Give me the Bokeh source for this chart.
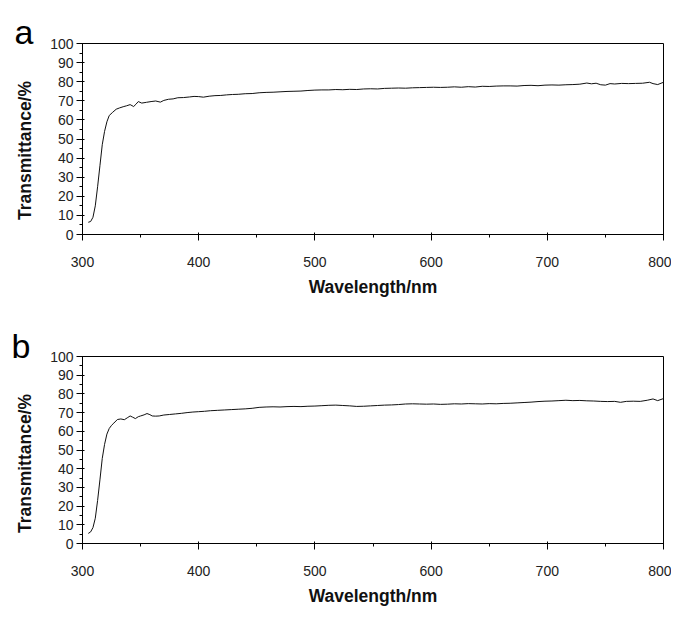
import math
from bokeh.plotting import figure
from bokeh.layouts import column
from bokeh.models import Range1d, SingleIntervalTicker, Label
from bokeh.embed import file_html
from bokeh.resources import INLINE

# ---- data ----
wl_a = [305, 307, 309, 311, 313, 315, 317, 319, 321, 323, 326, 329, 332, 335, 338,
        341, 344, 346, 348, 351, 355, 359, 363, 367, 370, 374, 378, 382, 387, 392,
        396, 400, 404, 409, 414, 419, 424, 429, 434, 440, 446, 452, 458, 464, 470,
        476, 482, 488, 494, 500, 506, 512, 518, 524, 530, 536, 542, 548, 554, 560,
        566, 572, 578, 584, 590, 596, 602, 608, 614, 620, 626, 632, 638, 644, 650,
        656, 662, 668, 674, 680, 686, 692, 698, 704, 710, 716, 722, 728, 734, 738,
        742, 746, 750, 754, 758, 764, 770, 776, 782, 788, 791, 795, 800]
t_a = [6.4, 6.8, 9.0, 15.0, 25.0, 36.0, 47.0, 54.0, 59.0, 62.3, 64.0, 65.6, 66.3, 66.9, 67.4,
       68.0, 67.0, 68.2, 69.6, 68.8, 69.2, 69.6, 69.9, 69.3, 70.2, 70.8, 71.0, 71.6, 71.7, 72.0,
       72.3, 72.2, 71.9, 72.4, 72.7, 72.8, 73.1, 73.3, 73.4, 73.7, 73.8, 74.2, 74.4, 74.5, 74.7,
       74.9, 75.0, 75.1, 75.4, 75.6, 75.7, 75.7, 75.9, 75.8, 76.0, 75.9, 76.2, 76.3, 76.2, 76.5,
       76.6, 76.7, 76.6, 76.8, 76.9, 77.0, 77.1, 77.0, 77.1, 77.3, 77.1, 77.4, 77.2, 77.6, 77.5,
       77.7, 77.8, 77.8, 77.7, 78.0, 78.1, 77.9, 78.2, 78.3, 78.2, 78.4, 78.5, 78.7, 79.3, 78.9,
       79.2, 78.4, 78.2, 79.0, 78.8, 79.1, 79.0, 79.1, 79.2, 79.7, 79.0, 78.5, 79.7]

wl_b = [305, 307, 309, 311, 313, 315, 317, 319, 321, 323, 325, 327, 330, 333, 336,
        339, 341, 343, 345.5, 348, 350, 353, 355.5, 358, 360, 363, 366, 370, 375, 380,
        385, 390, 395, 400, 405, 410, 416, 422, 428, 434, 440, 446, 452, 458, 464,
        470, 476, 482, 488, 494, 500, 506, 512, 518, 524, 530, 536, 542, 548, 554,
        560, 566, 572, 578, 584, 590, 596, 602, 608, 614, 620, 626, 632, 638, 644,
        650, 656, 662, 668, 674, 680, 686, 692, 698, 704, 710, 716, 722, 728, 734,
        740, 746, 752, 758, 763, 768, 774, 780, 786, 791, 795, 800]
t_b = [5.4, 6.2, 8.5, 13.5, 23.0, 34.0, 45.5, 53.0, 58.5, 61.5, 63.2, 64.4, 66.3, 66.6, 66.2,
       67.4, 68.2, 67.6, 66.8, 67.8, 68.2, 68.8, 69.5, 68.9, 68.2, 68.1, 68.2, 68.7, 69.0, 69.3,
       69.6, 70.0, 70.3, 70.5, 70.7, 71.0, 71.2, 71.4, 71.6, 71.8, 72.0, 72.3, 72.8, 73.0, 73.1,
       73.0, 73.2, 73.3, 73.2, 73.4, 73.5, 73.7, 73.9, 74.0, 73.8, 73.6, 73.3, 73.4, 73.6, 73.8,
       74.0, 74.1, 74.3, 74.6, 74.7, 74.6, 74.5, 74.6, 74.4, 74.5, 74.7, 74.6, 74.8, 74.7, 74.6,
       74.8, 74.7, 74.9, 75.0, 75.2, 75.4, 75.6, 75.9, 76.1, 76.2, 76.4, 76.6, 76.4, 76.5, 76.3,
       76.2, 76.0, 75.9, 76.0, 75.5, 76.0, 76.1, 76.0, 76.6, 77.3, 76.4, 77.5]

panels = ["a", "b"]
x_label = "Wavelength/nm"
y_label = "Transmittance/%"

FONT = "Liberation Sans"


def make_panel(letter, xs, ys, height, top, bottom, ylab_y, letter_x, letter_y):
    p = figure(width=671, height=height, output_backend="svg", toolbar_location=None,
               x_range=Range1d(300, 800), y_range=Range1d(0, 100),
               min_border_left=82, min_border_right=8,
               min_border_top=top, min_border_bottom=bottom)
    p.line(xs, ys, line_color="#111111", line_width=1)
    p.grid.visible = False
    p.outline_line_color = "black"
    p.outline_line_width = 1
    p.outline_line_alpha = 1
    p.background_fill_color = "white"
    p.border_fill_color = "white"

    p.xaxis.ticker = SingleIntervalTicker(interval=100, num_minor_ticks=2)
    p.yaxis.ticker = SingleIntervalTicker(interval=10, num_minor_ticks=2)
    for ax in (p.xaxis[0], p.yaxis[0]):
        ax.axis_line_color = "black"
        ax.major_tick_line_color = "black"
        ax.minor_tick_line_color = "black"
        ax.major_tick_in = 2
        ax.major_tick_out = 6
        ax.minor_tick_in = 0
        ax.minor_tick_out = 3
        ax.major_label_text_font = FONT
        ax.major_label_text_font_size = "14px"
        ax.major_label_text_color = "#222222"
        ax.axis_label_text_font = FONT
        ax.axis_label_text_font_size = "17.5px"
        ax.axis_label_text_font_style = "bold"
        ax.axis_label_text_color = "#111111"
    p.xaxis.axis_label = x_label
    p.xaxis.major_label_standoff = 16
    p.xaxis.axis_label_standoff = 7
    p.yaxis.major_label_standoff = 3

    # rotated y-axis title (canvas pixels, in the left side panel)
    p.add_layout(Label(x=24, y=ylab_y, x_units="canvas", y_units="canvas",
                       text=y_label, angle=math.pi / 2, text_align="center",
                       text_baseline="middle", text_font=FONT, text_font_size="17.5px",
                       text_font_style="bold", text_color="#111111"), "left")
    # panel letter
    p.add_layout(Label(x=letter_x, y=letter_y, x_units="canvas", y_units="canvas",
                       text=letter, text_align="left", text_baseline="alphabetic",
                       text_font=FONT, text_font_size="34px", text_color="black"), "left")
    return p


pa = make_panel(panels[0], wl_a, t_a, 306, 43, 72, 150, 14, 31)
pb = make_panel(panels[1], wl_b, t_b, 302, 50, 61, 157, 11, 39)
layout = column(pa, pb)
open("out.html", "w").write(file_html(layout, INLINE))
